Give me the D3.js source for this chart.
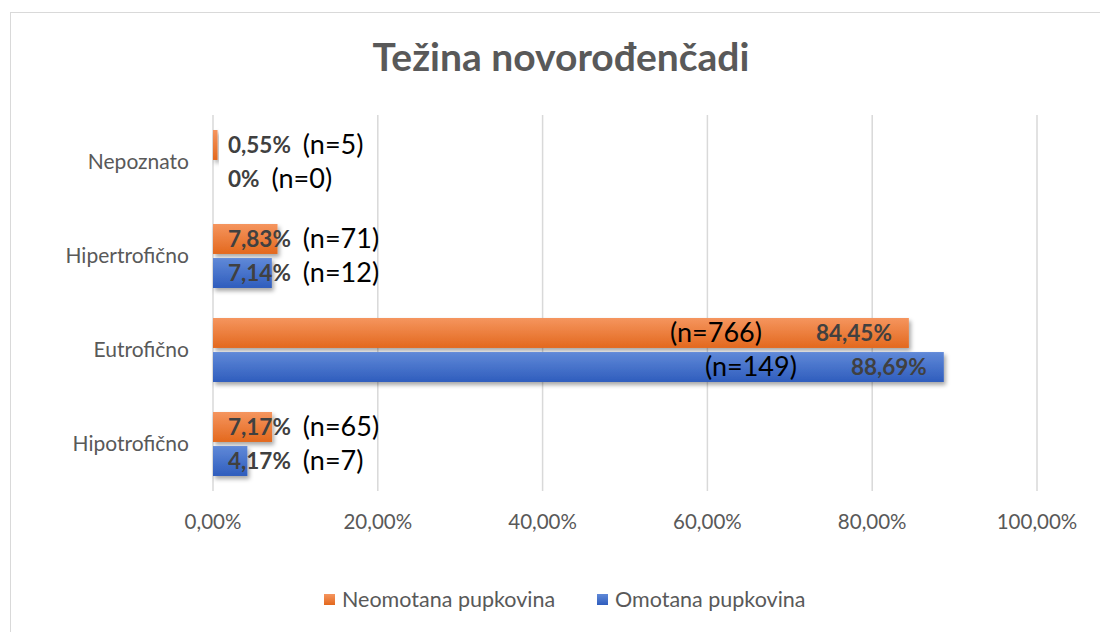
<!DOCTYPE html>
<html><head><meta charset="utf-8">
<script src="https://cdn.jsdelivr.net/npm/d3@7"></script>
<style>html,body{margin:0;padding:0;background:#fff;}svg{display:block;}</style>
</head><body><svg id="c" width="1100" height="632"></svg>
<script>
const title = "Težina novorođenčadi";
const categories = ["Nepoznato", "Hipertrofično", "Eutrofično", "Hipotrofično"];
const seriesNames = ["Neomotana pupkovina", "Omotana pupkovina"];
const neomotanaPct = [0.55, 7.83, 84.45, 7.17];
const neomotanaN = [5, 71, 766, 65];
const omotanaPct = [0, 7.14, 88.69, 4.17];
const omotanaN = [0, 12, 149, 7];
const xTicks = [0, 20, 40, 60, 80, 100];

const font = "Lato, 'Open Sans', sans-serif";
const svg = d3.select("#c");
const defs = svg.append("defs");
const grads = [["gO", "#f5955f", "#e3681d"], ["gB", "#6089d8", "#2f5dbd"]];
grads.forEach(([id, a, b]) => {
  const g = defs.append("linearGradient").attr("id", id).attr("x1", 0).attr("y1", 0).attr("x2", 0).attr("y2", 1);
  g.append("stop").attr("offset", "0%").attr("stop-color", a);
  g.append("stop").attr("offset", "100%").attr("stop-color", b);
});
const f = defs.append("filter").attr("id", "sh").attr("x", "-10%").attr("y", "-30%").attr("width", "130%").attr("height", "180%");
f.append("feDropShadow").attr("dx", 2).attr("dy", 3).attr("stdDeviation", 2).attr("flood-color", "#000").attr("flood-opacity", 0.35);

// border
svg.append("rect").attr("x", 10.5).attr("y", 12.5).attr("width", 1200).attr("height", 700)
  .attr("fill", "none").attr("stroke", "#d9d9d9").attr("stroke-width", 1);

svg.append("text").attr("x", 561).attr("y", 71).attr("text-anchor", "middle")
  .attr("font-family", font).attr("font-weight", 700).attr("font-size", 39).attr("fill", "#595959").text(title);

const x = d3.scaleLinear().domain([0, 100]).range([213, 1037]);
const y0 = d3.scaleBand().domain(categories).range([115, 491]);
const fmt = v => d3.format(".2f")(v).replace(".", ",") + "%";

// gridlines
svg.append("g").selectAll("line").data(xTicks).join("line")
  .attr("x1", d => x(d)).attr("x2", d => x(d)).attr("y1", 115).attr("y2", 491)
  .attr("stroke", "#d9d9d9").attr("stroke-width", 1.5);

// x tick labels
svg.append("g").selectAll("text").data(xTicks).join("text")
  .attr("x", d => x(d)).attr("y", 529).attr("text-anchor", "middle")
  .attr("font-family", font).attr("font-size", 20.5).attr("fill", "#595959").text(d => fmt(d));

// category labels
svg.append("g").selectAll("text").data(categories).join("text")
  .attr("x", 189).attr("y", d => y0(d) + y0.bandwidth() / 2 + 7).attr("text-anchor", "end")
  .attr("font-family", font).attr("font-size", 21).attr("fill", "#595959").text(d => d);

const series = [
  { name: seriesNames[0], pct: neomotanaPct, n: neomotanaN, fill: "url(#gO)" },
  { name: seriesNames[1], pct: omotanaPct, n: omotanaN, fill: "url(#gB)" }
];
const rows = [];
categories.forEach((c, i) => series.forEach((s, j) => rows.push({ c, j, v: s.pct[i], n: s.n[i], fill: s.fill })));

const y1 = d3.scaleBand().domain([0, 1]).range([0, 64]).paddingInner(0.12);
const by = d => y0(d.c) + y0.bandwidth() / 2 - 32 + y1(d.j);

svg.append("g").selectAll("rect").data(rows.filter(d => d.v > 0)).join("rect")
  .attr("x", x(0)).attr("y", by).attr("width", d => x(d.v) - x(0)).attr("height", y1.bandwidth())
  .attr("fill", d => d.fill).attr("filter", "url(#sh)");

const lg = svg.append("g");
rows.forEach(d => {
  const cy = by(d) + y1.bandwidth() / 2;
  const end = x(d.v);
  const big = d.v > 50;
  const pt = lg.append("text").attr("y", cy + 8)
    .attr("font-family", font).attr("font-weight", 700).attr("font-size", 22.5).attr("fill", "#404040")
    .text(d.v === 0 ? "0%" : fmt(d.v));
  const nt = lg.append("text").attr("y", cy + 9)
    .attr("font-family", font).attr("font-size", 27).attr("fill", "#000").text("(n=" + d.n + ")");
  const pw = pt.node().getComputedTextLength();
  if (big) {
    pt.attr("x", end - 17).attr("text-anchor", "end");
    nt.attr("x", end - 17 - pw - 54).attr("text-anchor", "end");
  } else {
    pt.attr("x", x(0) + 15);
    nt.attr("x", x(0) + 15 + pw + 12);
  }
});

// legend
const leg = svg.append("g");
const lx = [324, 597];
series.forEach((s, i) => {
  leg.append("rect").attr("x", lx[i]).attr("y", 594).attr("width", 11).attr("height", 11).attr("fill", s.fill);
  leg.append("text").attr("x", lx[i] + 18).attr("y", 607)
    .attr("font-family", font).attr("font-size", 21.5).attr("fill", "#595959").text(s.name);
});
</script></body></html>
